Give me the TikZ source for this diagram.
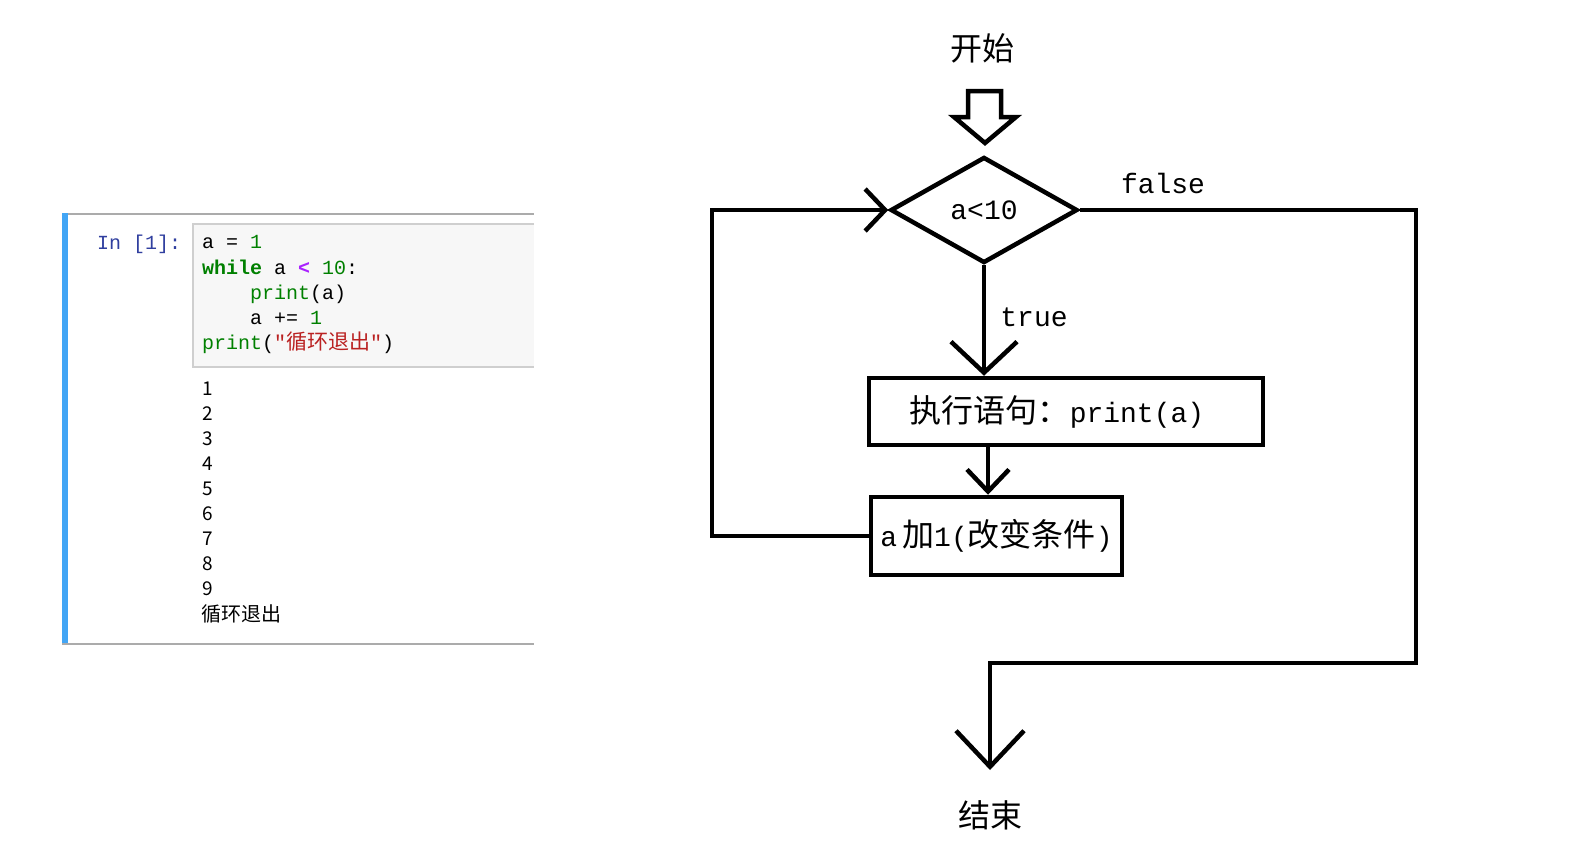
\documentclass[tikz,border=0pt]{standalone}
\usepackage{fontspec}
\usetikzlibrary{shapes.geometric,arrows.meta,calc}
\newfontfamily\cjk{Noto Sans CJK SC}
\newfontfamily\mono{Liberation Mono}
\definecolor{jblue}{HTML}{42A5F5}
\definecolor{jprompt}{HTML}{303F9F}
\definecolor{jgreen}{HTML}{008000}
\definecolor{jpurple}{HTML}{AA22FF}
\definecolor{jred}{HTML}{BA2121}
\definecolor{jborder}{HTML}{CFCFCF}
\definecolor{jfill}{HTML}{F7F7F7}
\definecolor{jline}{HTML}{ABABAB}
\begin{document}
\begin{tikzpicture}[x=1pt,y=-1pt,
  codetxt/.style={anchor=base west, inner sep=0, font=\mono\fontsize{20}{20}\selectfont},
  outtxt/.style={anchor=base west, inner sep=0, font=\cjk\fontsize{19}{19}\selectfont},
  flow/.style={line width=4.5pt, line join=miter},
  box/.style={draw, line width=4.5pt, rectangle, inner sep=0},
  lbl/.style={inner sep=0, font=\mono\fontsize{28}{28}\selectfont},
  cjklbl/.style={inner sep=0, font=\cjk\fontsize{32}{32}\selectfont},
  bigbarb/.style={-{Straight Barb[length=31pt,width=66pt]}},
  midbarb/.style={-{Straight Barb[length=22pt,width=42pt]}},
]
\fill[white] (0,0) rectangle (1583,857);
\useasboundingbox (0,0) rectangle (1583,857);

% ---------- notebook cell ----------
\fill[jblue] (62,213) rectangle (68,645);
\draw[jline, line width=2pt] (68,214) -- (534,214);
\draw[jline, line width=2pt] (62,644) -- (534,644);
\path[fill=jfill] (193,224) rectangle (534,367);
\draw[jborder, line width=1.2pt] (534,224) -- (193,224) -- (193,367) -- (534,367);

\node[codetxt, text=jprompt] (prompt) at (97,249) {In [1]:};
\node[codetxt] (c1) at (202,248) {a = \textcolor{jgreen}{1}};
\node[codetxt] (c2) at (202,274) {\textcolor{jgreen}{\bfseries while} a \textcolor{jpurple}{\bfseries <} \textcolor{jgreen}{10}:};
\node[codetxt] (c3) at (250,299) {\textcolor{jgreen}{print}(a)};
\node[codetxt] (c4) at (250,324) {a += \textcolor{jgreen}{1}};
\node[codetxt] (c5) at (202,349) {\textcolor{jgreen}{print}(\textcolor{jred}{"{\cjk\fontsize{21}{21}\selectfont 循环退出}"})};

\node[outtxt] (o1) at (202,395) {1};
\node[outtxt] (o2) at (202,420) {2};
\node[outtxt] (o3) at (202,445) {3};
\node[outtxt] (o4) at (202,470) {4};
\node[outtxt] (o5) at (202,495) {5};
\node[outtxt] (o6) at (202,520) {6};
\node[outtxt] (o7) at (202,545) {7};
\node[outtxt] (o8) at (202,570) {8};
\node[outtxt] (o9) at (202,595) {9};
\node[outtxt, font=\cjk\fontsize{20}{20}\selectfont] (o10) at (201,621) {循环退出};

% ---------- flowchart ----------
\node[cjklbl] (start) at (982,48) {开始};
\draw[flow] (968,91) -- (1001,91) -- (1001,117) -- (1016,117) -- (985,143) -- (954,117) -- (968,117) -- cycle;

\node[diamond, draw, line width=4.5pt, minimum width=187pt, minimum height=106pt, inner sep=0,
      font=\mono\fontsize{28}{28}\selectfont] (cond) at (984,210) {a<10};

\node[lbl] (lfalse) at (1163,183) {false};
\node[lbl] (ltrue) at (1034,317) {true};

\node[box, minimum width=394pt, minimum height=67pt] (b1) at (1066,411.5)
  {{\cjk\fontsize{32}{32}\selectfont 执行语句：}{\mono\fontsize{28}{28}\selectfont print(a)}\hspace*{18pt}};
\node[box, minimum width=251pt, minimum height=78pt] (b2) at (996.5,536)
  {{\mono\fontsize{28}{28}\selectfont a}\hspace{5pt}{\cjk\fontsize{32}{32}\selectfont 加}{\mono\fontsize{28}{28}\selectfont 1(}{\cjk\fontsize{32}{32}\selectfont 改变条件}{\mono\fontsize{28}{28}\selectfont )}};

\node[cjklbl] (end) at (990,815) {结束};

\coordinate (b2top) at ([xshift=-8.5pt]b2.north);
\coordinate (lc) at (712,210);
\coordinate (fr) at (1416,210);
\coordinate (fb) at (1416,663);
\coordinate (fe) at (990,663);
\coordinate (endtip) at (990,770);

\draw[flow, bigbarb] (cond.south) -- (cond.south |- b1.north);
\draw[flow, midbarb] (b1.south -| b2top) -- (b2top);
\draw[flow, -{Straight Barb[length=20pt,width=42pt]}] (b2.west) -| (lc) -- (cond.west);
\draw[flow, -{Straight Barb[length=36pt,width=68pt]}] (cond.east) -- (fr) -- (fb) -- (fe) -- (endtip);
\end{tikzpicture}
\end{document}
